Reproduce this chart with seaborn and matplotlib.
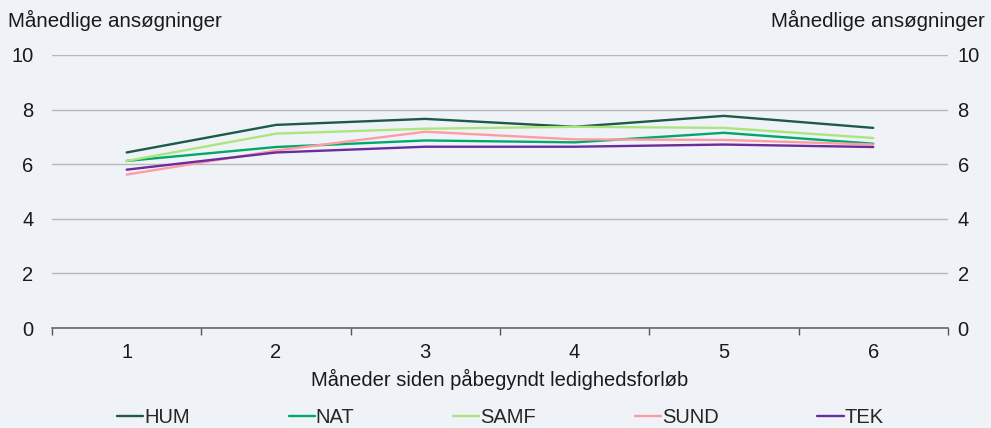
import matplotlib.pyplot as plt
import seaborn as sns
import pandas as pd

months = [1, 2, 3, 4, 5, 6]
hum = [6.43, 7.44, 7.66, 7.37, 7.77, 7.33]
nat = [6.12, 6.63, 6.87, 6.80, 7.15, 6.75]
samf = [6.12, 7.12, 7.30, 7.37, 7.33, 6.96]
sund = [5.62, 6.50, 7.19, 6.91, 6.89, 6.72]
tek = [5.80, 6.43, 6.64, 6.64, 6.72, 6.63]

series = {"HUM": hum, "NAT": nat, "SAMF": samf, "SUND": sund, "TEK": tek}
colors = {"HUM": "#1d5a48", "NAT": "#00a86b", "SAMF": "#ace57f",
          "SUND": "#ff9ca3", "TEK": "#6b2c9c"}

df = pd.concat([pd.DataFrame({"month": months, "value": v, "group": k})
                for k, v in series.items()], ignore_index=True)

bg = "#eff3f7"
sns.set_theme(style="white")
plt.rcParams['font.family'] = ['Liberation Sans', 'DejaVu Sans']
labelsize = 14.5
txtcol = '#1a1a1a'

fig, ax = plt.subplots(figsize=(9.91, 4.28), dpi=100)
fig.patch.set_facecolor(bg)
ax.set_facecolor(bg)

sns.lineplot(data=df, x="month", y="value", hue="group", palette=colors,
             linewidth=1.7, ax=ax, legend=False)

ax.set_xlim(0.5, 6.5)
ax.set_ylim(0, 10)
ax.set_xticks(months)
ax.set_xticklabels([str(m) for m in months], fontsize=labelsize)
ax.set_xticks([m + 0.5 for m in [0] + months], minor=True)
ax.tick_params(axis='x', which='major', bottom=True, length=0, pad=11, colors=txtcol)
ax.tick_params(axis='x', which='minor', bottom=True, length=5, width=1,
               direction='out', color='#555555')
yticks = [0, 2, 4, 6, 8, 10]
ax.set_yticks(yticks)
ax.tick_params(axis='y', length=0, labelsize=labelsize, pad=13.5, colors=txtcol)
ax.yaxis.grid(True, color='#b8b8b8', linewidth=1)
ax.set_axisbelow(True)
for s in ['top', 'left', 'right']:
    ax.spines[s].set_visible(False)
ax.spines['bottom'].set_color('#666666')
ax.spines['bottom'].set_linewidth(1.2)

# right-hand axis labels
ax2 = ax.twinx()
ax2.set_ylim(ax.get_ylim())
ax2.set_yticks(yticks)
ax2.tick_params(axis='y', length=0, labelsize=labelsize, pad=7, colors=txtcol)
for s in ax2.spines.values():
    s.set_visible(False)
ax2.grid(False)

ax.set_xlabel("Måneder siden påbegyndt ledighedsforløb", fontsize=labelsize,
              labelpad=5, color=txtcol)
ax.set_ylabel("")
fig.text(0.008, 0.952, "Månedlige ansøgninger", fontsize=14.8,
         ha='left', va='center', color=txtcol)
fig.text(0.994, 0.952, "Månedlige ansøgninger", fontsize=14.8,
         ha='right', va='center', color=txtcol)

handles = [plt.Line2D([], [], color=colors[k], linewidth=1.7) for k in series]
fig.legend(handles, list(series.keys()), loc='lower center', ncol=5,
           bbox_to_anchor=(0.505, -0.04), frameon=False, fontsize=labelsize,
           handlelength=1.3, handletextpad=0.05, columnspacing=4.9)

fig.subplots_adjust(left=0.0525, right=0.9565, bottom=0.2336, top=0.8715)
fig.savefig("out.png", dpi=100, facecolor=bg)
